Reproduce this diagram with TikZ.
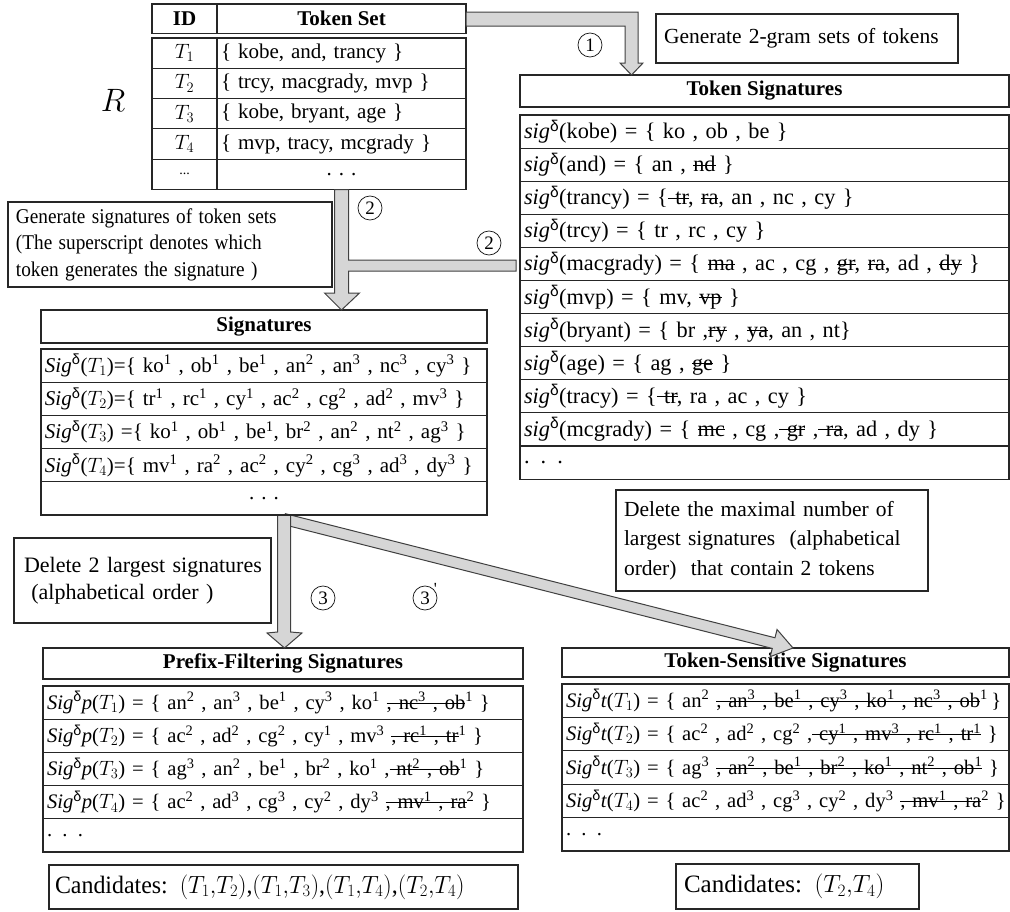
\documentclass[tikz,border=0pt]{standalone}
\usepackage{fontspec}
\setmainfont{Liberation Serif}
\newfontfamily\deltafont{Liberation Sans}
\usetikzlibrary{calc}
\newlength\strkw
\newcommand\strk[1]{\settowidth\strkw{#1}\rlap{\rule[0.27em]{\strkw}{1.1pt}}#1}
\newcommand\rowfs{\fontsize{21}{26}\selectfont}
\newcommand\tsfs{\fontsize{22.3}{26}\selectfont}
\newcommand\smfs{\fontsize{20.6}{26}\selectfont}
\newcommand\dl{\textsuperscript{\deltafont δ}}
\newcommand\su[1]{\textsuperscript{#1}}
\newcommand\sgx{\textit{sig}\dl}
\newcommand\SGx{\textit{Sig}\dl}
\newcommand\hs[2]{\scalebox{#1}[1]{#2}}
\tikzset{
  frame/.style={draw=black!85, line width=1.1pt, fill=white, inner sep=0pt, outer sep=0pt},
  hdr/.style={frame, anchor=north west, font=\rowfs\bfseries},
  lrow/.style={frame, anchor=north west, inner xsep=4pt, align=left, text width=#1, font=\rowfs,
    execute at begin node={\hbox\bgroup}, execute at end node={\egroup}},
  crow/.style={frame, anchor=north west, align=center, font=\rowfs},
  note/.style={frame, anchor=north west, inner xsep=8pt, align=left, text width=#1, font=\rowfs},
  garrow/.style={draw=black!75, fill=black!16, line width=1pt, line join=miter},
  num/.style={circle, draw=black!90, line width=0.75pt, minimum size=24, inner sep=0pt, font=\fontsize{19}{19}\selectfont},
}
\begin{document}
\begin{tikzpicture}[x=1pt,y=-1pt]
\useasboundingbox (0,0) rectangle (1010,911);

% ---------- table R ----------
\node[hdr, minimum width=65, minimum height=29.5] (hid) at (152,4) {ID};
\node[hdr, minimum width=249, minimum height=29.5] (hts) at (217,4) {Token Set};
\node[crow, minimum width=65, minimum height=30.3] (id1) at (152,38) {$T_1$};
\node[lrow=241pt, minimum height=30.3] (tk1) at (id1.north east) {\{ kobe, and, trancy \}};
\node[crow, minimum width=65, minimum height=30.3] (id2) at (id1.south west) {$T_2$};
\node[lrow=241pt, minimum height=30.3] (tk2) at (id2.north east) {\{ trcy, macgrady, mvp \}};
\node[crow, minimum width=65, minimum height=30.3] (id3) at (id2.south west) {$T_3$};
\node[lrow=241pt, minimum height=30.3] (tk3) at (id3.north east) {\{ kobe, bryant, age \}};
\node[crow, minimum width=65, minimum height=30.3] (id4) at (id3.south west) {$T_4$};
\node[lrow=241pt, minimum height=30.3] (tk4) at (id4.north east) {\{ mvp, tracy, mcgrady \}};
\node[crow, minimum width=65, minimum height=30.3, font=\fontsize{14}{16}\selectfont] (id5) at (id4.south west) {...};
\node[crow, minimum width=249, minimum height=30.3] (tk5) at (id5.north east) {. . .};
\node[font=\fontsize{24}{24}\selectfont, inner sep=0pt] (R) at (113,100) {\scalebox{1.3}{$R$}};

% ---------- notes ----------
\node[note=286pt, minimum height=49, font=\fontsize{21.5}{26}\selectfont] (n1) at (656,14) {Generate 2-gram sets of tokens};
\node[note=308pt, minimum height=85, font=\fontsize{21}{26.5}\selectfont] (n2) at (8,202)
  {\hs{0.916}{Generate signatures of token sets}\\\hs{0.916}{(The superscript denotes which}\\\hs{0.916}{token generates the signature )}};
\node[note=237pt, inner xsep=10pt, minimum height=85, font=\fontsize{22}{27}\selectfont] (n3) at (14,538)
  {\mbox{Delete 2 largest signatures}\\\mbox{ (alphabetical order )}};
\node[note=296pt, minimum height=101, font=\fontsize{21.5}{29.5}\selectfont] (n4) at (616,490)
  {\mbox{Delete the maximal number of}\\\mbox{largest signatures\ \ (alphabetical}\\\mbox{order)\ \ that contain 2 tokens}};

% ---------- Token Signatures ----------
\node[hdr, minimum width=489, minimum height=32] (tsh) at (520,75) {Token Signatures};
\node[lrow=481pt, minimum height=33.1, font=\tsfs] (ts1) at (520,115) {\sgx(kobe) = \{ ko , ob , be \}};
\node[lrow=481pt, minimum height=33.1, font=\tsfs] (ts2) at (ts1.south west) {\sgx(and) = \{ an , \strk{nd} \}};
\node[lrow=481pt, minimum height=33.1, font=\tsfs] (ts3) at (ts2.south west) {\sgx(trancy) = \{\strk{ tr}, \strk{ra}, an , nc , cy \}};
\node[lrow=481pt, minimum height=33.1, font=\tsfs] (ts4) at (ts3.south west) {\sgx(trcy) = \{ tr , rc , cy \}};
\node[lrow=481pt, minimum height=33.1, font=\tsfs] (ts5) at (ts4.south west) {\sgx(macgrady) = \{ \strk{ma} , ac , cg , \strk{gr}, \strk{ra}, ad , \strk{dy} \}};
\node[lrow=481pt, minimum height=33.1, font=\tsfs] (ts6) at (ts5.south west) {\sgx(mvp) = \{ mv, \strk{vp} \}};
\node[lrow=481pt, minimum height=33.1, font=\tsfs] (ts7) at (ts6.south west) {\sgx(bryant) = \{ br ,\strk{ry} , \strk{ya}, an , nt\}};
\node[lrow=481pt, minimum height=33.1, font=\tsfs] (ts8) at (ts7.south west) {\sgx(age) = \{ ag , \strk{ge} \}};
\node[lrow=481pt, minimum height=33.1, font=\tsfs] (ts9) at (ts8.south west) {\sgx(tracy) = \{\strk{ tr}, ra , ac , cy \}};
\node[lrow=481pt, minimum height=33.1, font=\tsfs] (ts10) at (ts9.south west) {\sgx(mcgrady) = \{ \strk{mc} , cg ,\strk{ gr} ,\strk{ ra}, ad , dy \}};
\node[lrow=481pt, minimum height=33.1, font=\tsfs] (ts11) at (ts10.south west) {. . .};

% ---------- Signatures ----------
\node[hdr, minimum width=446, minimum height=33] (sgh) at (41,310) {Signatures};
\node[lrow=438pt, minimum height=33.2] (sg1) at (41,349) {\SGx($T_1$)=\{ ko\su1 , ob\su1 , be\su1 , an\su2 , an\su3 , nc\su3 , cy\su3 \}};
\node[lrow=438pt, minimum height=33.2] (sg2) at (sg1.south west) {\SGx($T_2$)=\{ tr\su1 , rc\su1 , cy\su1 , ac\su2 , cg\su2 , ad\su2 , mv\su3 \}};
\node[lrow=438pt, minimum height=33.2] (sg3) at (sg2.south west) {\SGx($T_3$) =\{ ko\su1 , ob\su1 , be\su1, br\su2 , an\su2 , nt\su2 , ag\su3 \}};
\node[lrow=438pt, minimum height=33.2] (sg4) at (sg3.south west) {\SGx($T_4$)=\{ mv\su1 , ra\su2 , ac\su2 , cy\su2 , cg\su3 , ad\su3 , dy\su3 \}};
\node[crow, minimum width=446, minimum height=33.2] (sg5) at (sg4.south west) {. . .};

% ---------- Prefix-Filtering Signatures ----------
\node[hdr, minimum width=480, minimum height=31] (pfh) at (43,648) {Prefix-Filtering Signatures};
\node[lrow=472pt, minimum height=33.2, font=\smfs] (pf1) at (43,686) {\SGx\textit{p}($T_1$) = \{ an\su2 , an\su3 , be\su1 , cy\su3 , ko\su1 \strk{, nc\su3 , ob}\su1 \}};
\node[lrow=472pt, minimum height=33.2, font=\smfs] (pf2) at (pf1.south west) {\SGx\textit{p}($T_2$) = \{ ac\su2 , ad\su2 , cg\su2 , cy\su1 , mv\su3 \strk{, rc\su1 , tr}\su1 \}};
\node[lrow=472pt, minimum height=33.2, font=\smfs] (pf3) at (pf2.south west) {\SGx\textit{p}($T_3$) = \{ ag\su3 , an\su2 , be\su1 , br\su2 , ko\su1 ,\strk{ nt\su2 , ob}\su1 \}};
\node[lrow=472pt, minimum height=33.2, font=\smfs] (pf4) at (pf3.south west) {\SGx\textit{p}($T_4$) = \{ ac\su2 , ad\su3 , cg\su3 , cy\su2 , dy\su3 \strk{, mv\su1 , ra}\su2 \}};
\node[lrow=472pt, minimum height=33.2, font=\smfs] (pf5) at (pf4.south west) {. . .};

% ---------- Token-Sensitive Signatures ----------
\node[hdr, minimum width=447, minimum height=29] (tth) at (562,648) {Token-Sensitive\ Signatures};
\node[lrow=439pt, minimum height=33.4, font=\smfs] (tt1) at (562,684) {\SGx\textit{t}($T_1$) = \{ an\su2 \strk{, an\su3 , be\su1 , cy\su3 , ko\su1 , nc\su3 , ob}\su1\,\}};
\node[lrow=439pt, minimum height=33.4, font=\smfs] (tt2) at (tt1.south west) {\SGx\textit{t}($T_2$) = \{ ac\su2 , ad\su2 , cg\su2 ,\strk{ cy\su1 , mv\su3 , rc\su1 , tr\su1} \}};
\node[lrow=439pt, minimum height=33.4, font=\smfs] (tt3) at (tt2.south west) {\SGx\textit{t}($T_3$) = \{ ag\su3 \strk{, an\su2 , be\su1 , br\su2 , ko\su1 , nt\su2 , ob\su1} \}};
\node[lrow=439pt, minimum height=33.4, font=\smfs] (tt4) at (tt3.south west) {\SGx\textit{t}($T_4$) = \{ ac\su2 , ad\su3 , cg\su3 , cy\su2 , dy\su3 \strk{, mv\su1 , ra}\su2 \}};
\node[lrow=439pt, minimum height=33.4, font=\smfs] (tt5) at (tt4.south west) {. . .};

% ---------- candidates ----------
\node[note=457pt, inner xsep=6pt, minimum height=44, font=\fontsize{25}{28}\selectfont] (cl) at (49,865)
  {\hs{0.956}{Candidates: $(T_1{,}T_2)$,$(T_1{,}T_3)$,$(T_1{,}T_4)$,$(T_2{,}T_4)$}};
\node[note=227pt, minimum height=45, font=\fontsize{25}{28}\selectfont] (cr) at (676,864)
  {\mbox{Candidates: $(T_2{,}T_4)$}};

% ---------- block arrows ----------
\coordinate (a1s) at (hts.east);
\coordinate (a1t) at (631.5,0 |- tsh.north);
\draw[garrow] (a1s |- 0,12) -- (638,12) -- (638,63) -- (643,63) -- (a1t) -- (620,63) -- (625,63) -- (625,26) -- (a1s |- 0,26) -- cycle;

\coordinate (a2s) at (tk5.south);
\coordinate (a2t) at (a2s |- sgh.north);
\coordinate (a2e) at ($(ts5.west)+(-4,0)$);
\coordinate (a2r) at ($(a2s)+(7,0)$);
\coordinate (a2l) at ($(a2s)+(-7,0)$);
\draw[garrow] (a2l) -- (a2r) -- (a2r |- 0,260) -- (a2e |- 0,260) -- (a2e |- 0,271)
  -- (a2r |- 0,271) -- (a2r |- 0,293) -- ($(a2t)+(18,-17)$) -- (a2t) -- ($(a2t)+(-17,-17)$) -- (a2l |- 0,293) -- cycle;

% diagonal arrow 3'
\coordinate (a4s0) at (284,0 |- sg5.south);
\coordinate (a4s) at ($(a4s0)+(0,4)$);
\coordinate (a4t) at (793,0 |- tth.north);
\coordinate (a4b) at ($(a4t)!20pt!(a4s)$);
\draw[garrow] ($(a4s)!5.5pt!90:(a4t)$) -- ($(a4b)!5.5pt!-90:(a4s)$) -- ($(a4b)!14pt!-90:(a4s)$) -- (a4t)
  -- ($(a4b)!14pt!90:(a4s)$) -- ($(a4b)!5.5pt!90:(a4s)$) -- ($(a4s)!5.5pt!-90:(a4t)$) -- cycle;

% vertical arrow 3
\coordinate (a3s) at (284,0 |- sg5.south);
\coordinate (a3t) at (284.5,0 |- pfh.north);
\coordinate (a3r) at ($(a3s)+(6.5,0)$);
\coordinate (a3l) at ($(a3s)+(-6.5,0)$);
\draw[garrow] (a3l) -- (a3r) -- (a3r |- 0,632) -- ($(a3t)+(17.5,-15)$) -- (a3t)
  -- ($(a3t)+(-17.5,-15)$) -- (a3l |- 0,632) -- cycle;
\draw[black!85, line width=1.1pt] (sg5.south west) -- (sg5.south east);

% ---------- circled numbers ----------
\node[num] (c1) at (590,45) {1};
\node[num] (c2a) at (370,208) {2};
\node[num] (c2b) at (489,243) {2};
\node[num] (c3) at (323,598) {3};
\node[num, label={[inner sep=0pt, font=\fontsize{17}{17}\selectfont, anchor=west]north east:\textquotesingle}] (c3p) at (425,598) {3};
\end{tikzpicture}
\end{document}
